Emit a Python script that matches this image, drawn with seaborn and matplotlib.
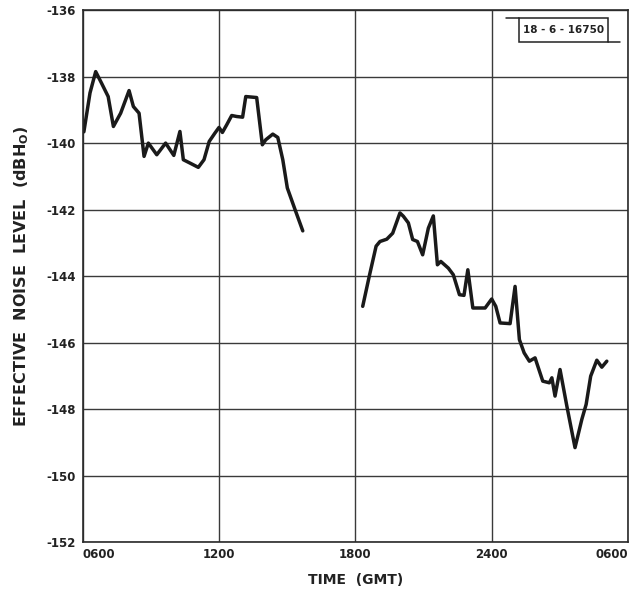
import numpy as np
import pandas as pd
import matplotlib
matplotlib.use("Agg")
import matplotlib.pyplot as plt
import matplotlib.patches as mpatches
import seaborn as sns

# Time in hours from 0600 GMT of day 1 (6 = 0600, 30 = 0600 next day)
t_first = [6.04, 6.31, 6.56, 6.82, 7.11, 7.34, 7.66, 8.03, 8.22, 8.47, 8.69, 8.88,
           9.25, 9.64, 10.0, 10.27, 10.42, 10.71, 11.08, 11.33, 11.56, 11.81, 11.99,
           12.14, 12.33, 12.55, 12.77, 13.03, 13.17, 13.65, 13.90, 14.05, 14.36,
           14.58, 14.80, 15.0, 15.34, 15.68]
level_first = [-139.66, -138.49, -137.85, -138.2, -138.6, -139.5, -139.1, -138.42,
               -138.9, -139.1, -140.4, -140.0, -140.35, -140.0, -140.37, -139.65,
               -140.5, -140.6, -140.73, -140.5, -139.95, -139.7, -139.53, -139.68,
               -139.45, -139.17, -139.2, -139.22, -138.6, -138.63, -140.05, -139.9,
               -139.73, -139.83, -140.5, -141.35, -142.0, -142.64]

t_second = [18.32, 18.61, 18.91, 19.08, 19.38, 19.64, 19.96, 20.11, 20.33, 20.52,
            20.73, 20.96, 21.21, 21.43, 21.61, 21.76, 22.09, 22.31, 22.58, 22.78,
            22.95, 23.17, 23.71, 24.0, 24.18, 24.37, 24.81, 25.03, 25.22, 25.43,
            25.66, 25.91, 26.25, 26.54, 26.65, 26.79, 27.01, 27.31, 27.67, 27.97,
            28.16, 28.36, 28.63, 28.85, 29.07]
level_second = [-144.91, -144.0, -143.1, -142.96, -142.89, -142.71, -142.1, -142.2,
                -142.4, -142.9, -142.96, -143.36, -142.56, -142.19, -143.66, -143.56,
                -143.76, -143.96, -144.56, -144.58, -143.81, -144.96, -144.96, -144.69,
                -144.91, -145.41, -145.43, -144.31, -145.91, -146.31, -146.56, -146.46,
                -147.16, -147.21, -147.06, -147.61, -146.81, -147.91, -149.16, -148.31,
                -147.86, -147.01, -146.53, -146.74, -146.56]

x_ticks = [6, 12, 18, 24, 30]
x_labels = ["0600", "1200", "1800", "2400", "0600"]
y_ticks = [-152, -150, -148, -146, -144, -142, -140, -138, -136]

df = pd.concat([
    pd.DataFrame({"time": t_first, "level": level_first, "segment": 1}),
    pd.DataFrame({"time": t_second, "level": level_second, "segment": 2}),
])

sns.set_style("white")
plt.rcParams["font.family"] = ["DejaVu Sans"]

fig = plt.figure(figsize=(6.3, 5.95), dpi=100)
ax = fig.add_axes([0.1317, 0.089, 0.865, 0.894])

sns.lineplot(data=df, x="time", y="level", units="segment", estimator=None,
             sort=False, color="#1a1a1a", linewidth=2.5, ax=ax)

ax.set_xlim(6, 30)
ax.set_ylim(-152, -136)
ax.set_xticks(x_ticks)
ax.set_xticklabels(x_labels)
ax.set_yticks(y_ticks)
ax.set_yticklabels([str(v) for v in y_ticks])
ax.grid(True, color="#3a3a3a", linewidth=1.0)
ax.set_axisbelow(True)
for s in ax.spines.values():
    s.set_color("#2a2a2a")
    s.set_linewidth(1.2)
ax.tick_params(axis="both", length=0, labelsize=8.5, colors="#222222")
ax.tick_params(axis="y", pad=5)
ax.tick_params(axis="x", pad=4)
for lab in ax.get_xticklabels() + ax.get_yticklabels():
    lab.set_fontweight("bold")
xl = ax.get_xticklabels()
xl[0].set_ha("left")
xl[-1].set_ha("right")

ax.set_xlabel("TIME  (GMT)", fontsize=10, fontweight="bold", color="#222222",
              labelpad=9)
ax.set_ylabel("EFFECTIVE  NOISE  LEVEL  (dBH$_{\\mathbf{O}}$)", fontsize=11.5,
              fontweight="bold", color="#222222", labelpad=11)

# report number box at top right
ax.add_patch(mpatches.Rectangle((0.800, 0.940), 0.163, 0.045, transform=ax.transAxes,
                                fill=True, fc="white", ec="#222222", lw=1.1, zorder=3))
ax.text(0.8815, 0.9625, "18 - 6 - 16750", transform=ax.transAxes, fontsize=7.5,
        fontweight="bold", ha="center", va="center", color="#222222", zorder=4)
ax.plot([0.776, 0.800], [0.985, 0.985], transform=ax.transAxes, color="#222222",
        lw=1.1, zorder=3)
ax.plot([0.963, 0.985], [0.940, 0.940], transform=ax.transAxes, color="#222222",
        lw=1.1, zorder=3)

fig.savefig("out.png", dpi=100)
